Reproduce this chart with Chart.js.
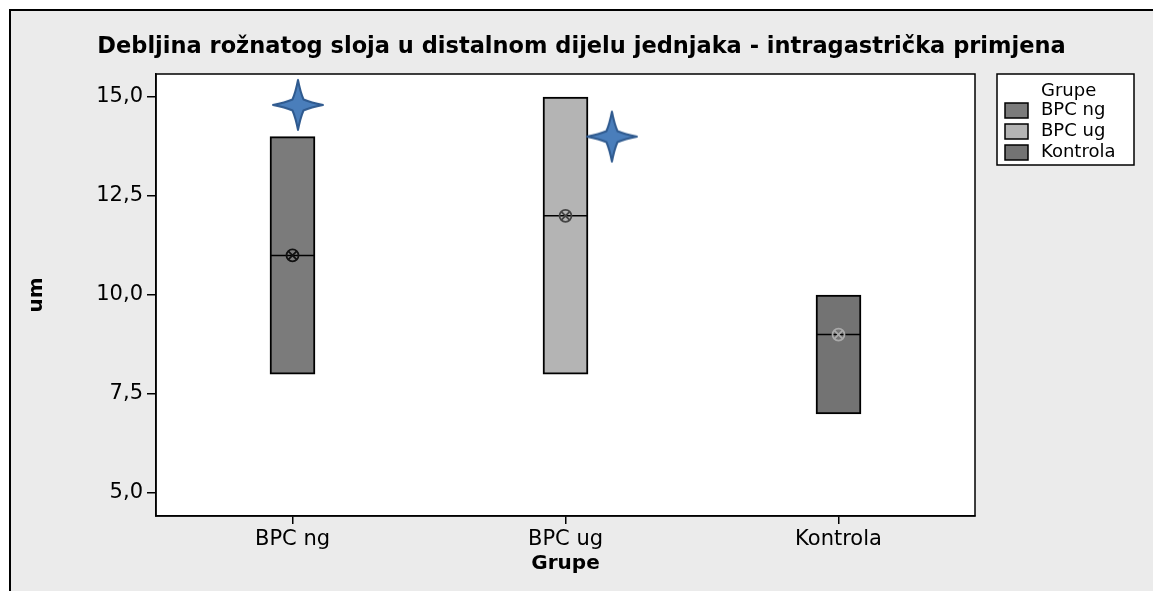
<!DOCTYPE html>
<html>
<head>
<meta charset="utf-8">
<script src="https://cdn.jsdelivr.net/npm/chart.js@4.4.1/dist/chart.umd.min.js"></script>
<style>
  html, body { margin: 0; padding: 0; background: #fff; }
  #wrap { width: 1153px; height: 591px; }
</style>
</head>
<body>
<div id="wrap"><canvas id="chartBox" width="1153" height="591"></canvas></div>
<script>
// podaci
const grupe = ['BPC ng', 'BPC ug', 'Kontrola'];
const donjeGranice = [8, 8, 7];
const gornjeGranice = [14, 15, 10];
const medijane = [11, 12, 9];
const zvjezdiceX = [0.02, 1.17];
const zvjezdiceY = [14.8, 14.0];
const yTicks = [5, 7.5, 10, 12.5, 15];

const bojeGrupa = ['#7b7b7b', '#b4b4b4', '#737373'];
const bojeSimbola = ['#111111', '#444444', '#aaaaaa'];

// zvjezdica s 4 kraka
function napraviZvjezdicu() {
   const c = document.createElement('canvas');
   c.width = 54; c.height = 56;
   const g = c.getContext('2d');
   const cx = 27, cy = 28, R = 25, a = 5.5;
   const tocke = [
      [0, -R], [a, -a], [R, 0], [a, a], [0, R], [-a, a], [-R, 0], [-a, -a]
   ];
   g.beginPath();
   g.moveTo(cx + tocke[0][0], cy + tocke[0][1]);
   for (let i = 1; i <= 8; i++) {
      const p = tocke[(i - 1) % 8], q = tocke[i % 8];
      // malo udubljene stranice
      const mx = (p[0] + q[0]) / 2 * 0.85, my = (p[1] + q[1]) / 2 * 0.85;
      g.quadraticCurveTo(cx + mx, cy + my, cx + q[0], cy + q[1]);
   }
   g.closePath();
   g.fillStyle = '#4a7ebb';
   g.fill();
   g.lineWidth = 2;
   g.lineJoin = 'round';
   g.strokeStyle = '#2f5a8f';
   g.stroke();
   return c;
}
const zvjezdica = napraviZvjezdicu();

const pozadina = {
   id: 'pozadina',
   beforeDraw(chart) {
      const { ctx, width, height, chartArea: a } = chart;
      ctx.save();
      ctx.fillStyle = '#ffffff';
      ctx.fillRect(0, 0, width, height);
      ctx.fillStyle = '#ebebeb';
      ctx.fillRect(10, 10, width - 10, height - 10);
      ctx.strokeStyle = '#000';
      ctx.lineWidth = 2;
      ctx.beginPath();
      ctx.moveTo(10, height);
      ctx.lineTo(10, 10);
      ctx.lineTo(width, 10);
      ctx.stroke();
      ctx.fillStyle = '#ffffff';
      ctx.fillRect(a.left, a.top, a.right - a.left, a.bottom - a.top);
      ctx.restore();
   },
   afterDraw(chart) {
      const { ctx, chartArea: a } = chart;
      ctx.save();
      ctx.strokeStyle = '#000';
      ctx.lineWidth = 1.5;
      ctx.strokeRect(a.left, a.top, a.right - a.left, a.bottom - a.top);

      // legenda
      const lx = a.right + 22, ly = a.top;
      ctx.fillStyle = '#fff';
      ctx.fillRect(lx, ly, 137, 91);
      ctx.strokeRect(lx, ly, 137, 91);
      ctx.font = '18px "DejaVu Sans"';
      ctx.textBaseline = 'middle';
      ctx.fillStyle = '#000';
      ctx.fillText('Grupe', lx + 44, ly + 17);
      grupe.forEach((g, i) => {
         const ry = ly + 36 + i * 21;
         ctx.fillStyle = bojeGrupa[i];
         ctx.fillRect(lx + 8, ry - 7, 23, 15);
         ctx.strokeRect(lx + 8, ry - 7, 23, 15);
         ctx.fillStyle = '#000';
         ctx.fillText(g, lx + 44, ry);
      });
      ctx.restore();
   }
};

const ctx = document.getElementById('chartBox').getContext('2d');
Chart.defaults.font.family = "'DejaVu Sans'";
Chart.defaults.color = '#000';

const chartBox = new Chart(ctx, {
   type: 'bar',
   data: {
      labels: grupe,
      datasets: [{
         label: 'Grupe',
         data: donjeGranice.map((d, i) => [d, gornjeGranice[i]]),
         backgroundColor: bojeGrupa,
         borderColor: '#000',
         borderWidth: 2,
         borderSkipped: false,
         barThickness: 45,
         grouped: false,
         order: 3
      }, {
         type: 'line',
         label: 'medijan',
         data: medijane,
         showLine: false,
         pointStyle: 'line',
         pointRadius: 22.5,
         pointBorderColor: '#000',
         pointBorderWidth: 1.5,
         order: 2
      }, {
         type: 'line',
         label: 'simbol krug',
         data: medijane,
         showLine: false,
         pointStyle: 'circle',
         pointRadius: 6,
         pointBackgroundColor: 'rgba(0,0,0,0)',
         pointBorderColor: bojeSimbola,
         pointBorderWidth: 1.8,
         order: 1
      }, {
         type: 'line',
         label: 'simbol x',
         data: medijane,
         showLine: false,
         pointStyle: 'crossRot',
         pointRadius: 6,
         pointBorderColor: bojeSimbola,
         pointBorderWidth: 1.8,
         order: 1
      }, {
         type: 'scatter',
         label: 'zvjezdice',
         xAxisID: 'xz',
         data: zvjezdiceX.map((x, i) => ({ x: x, y: zvjezdiceY[i] })),
         pointStyle: zvjezdica,
         order: 0
      }]
   },
   options: {
      responsive: false,
      animation: false,
      devicePixelRatio: 1,
      layout: { padding: { left: 10, top: 10, right: 0, bottom: 0 } },
      plugins: {
         legend: { display: false },
         tooltip: { enabled: false },
         title: {
            display: true,
            text: 'Debljina rožnatog sloja u distalnom dijelu jednjaka - intragastrička primjena',
            color: '#000',
            font: { size: 22.5, weight: 'bold' },
            padding: { top: 24, bottom: 13 }
         }
      },
      scales: {
         x: {
            type: 'category',
            offset: true,
            grid: { display: true, drawOnChartArea: false, offset: false, tickLength: 8, color: '#000', lineWidth: 1.5 },
            border: { display: true, color: '#000', width: 1.5 },
            ticks: { font: { size: 21 }, color: '#000', padding: 3 },
            title: { display: true, text: 'Grupe', font: { size: 20, weight: 'bold' }, color: '#000', padding: { top: 0, bottom: 15 } },
            afterFit: (s) => { s.height = 75; }
         },
         xz: {
            type: 'linear',
            display: false,
            offset: false,
            min: -0.5,
            max: 2.5
         },
         y: {
            min: 4.42,
            max: 15.58,
            afterBuildTicks: (s) => { s.ticks = yTicks.map(v => ({ value: v })); },
            grid: { display: true, drawOnChartArea: false, tickLength: 9, color: '#000', lineWidth: 1.5 },
            border: { display: true, color: '#000', width: 1.5 },
            ticks: {
               font: { size: 21 },
               color: '#000',
               padding: 4,
               callback: (v) => v.toFixed(1).replace('.', ',')
            },
            title: { display: true, text: 'um', font: { size: 20, weight: 'bold' }, color: '#000', padding: { top: 15, bottom: 0 } },
            afterFit: (s) => { s.width = 146; }
         },
         desno: {
            position: 'right',
            display: true,
            grid: { display: false },
            border: { display: false },
            ticks: { display: false },
            afterFit: (s) => { s.width = 178; }
         }
      }
   },
   plugins: [pozadina]
});
</script>
</body>
</html>
